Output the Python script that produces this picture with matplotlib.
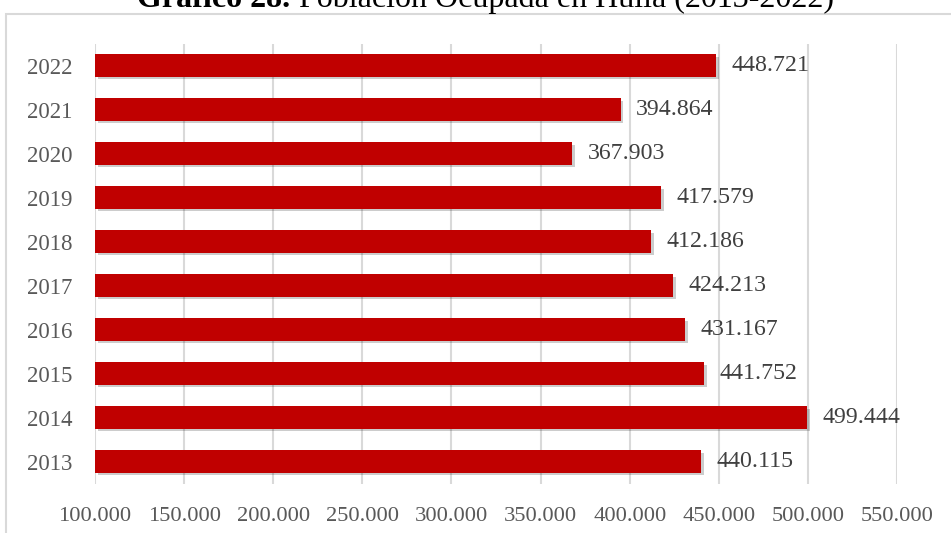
import matplotlib
matplotlib.use("Agg")
import matplotlib.pyplot as plt
import matplotlib.patheffects as pe
from matplotlib.patches import Rectangle

years = ["2013", "2014", "2015", "2016", "2017", "2018", "2019", "2020", "2021", "2022"]
values = [440115, 499444, 441752, 431167, 424213, 412186, 417579, 367903, 394864, 448721]
xticks = [100000, 150000, 200000, 250000, 300000, 350000, 400000, 450000, 500000, 550000]
title_bold = "Gráfico 28."
title_rest = " Población Ocupada en Huila (2013-2022)"

def fmt(v):
    return f"{v:,}".replace(",", ".")

plt.rcParams['font.family'] = ['Liberation Serif', 'DejaVu Serif']

W, H = 951, 533
fig = plt.figure(figsize=(W / 100, H / 100), dpi=100)

# outer chart frame
fig.patches.append(Rectangle((6 / W, -0.05), 1.2, 1 - 14 / H + 0.05, transform=fig.transFigure,
                             fill=False, edgecolor="#D9D9D9", linewidth=1.5))

ax = fig.add_axes([95 / W, 1 - 483.5 / H, (897 - 95) / W, (483.5 - 43.5) / H])
ypos = list(range(len(years)))
bars = ax.barh(ypos, [v - xticks[0] for v in values], left=xticks[0], height=0.51,
               color="#C00000", zorder=3)
for b in bars:
    b.set_path_effects([pe.SimplePatchShadow(offset=(2, -2), shadow_rgbFace="#000000", alpha=0.2),
                        pe.Normal()])

ax.set_xlim(xticks[0], xticks[-1])
ax.set_ylim(-0.5, len(years) - 0.5)
ax.set_xticks(xticks)
ax.set_xticklabels([fmt(t) for t in xticks], fontsize=16.2, color="#595959")
ax.set_yticks(ypos)
ax.set_yticklabels(years, fontsize=16.5, color="#595959")
ax.tick_params(axis="both", length=0)
ax.tick_params(axis="x", pad=17)
ax.tick_params(axis="y", pad=16.5)
ax.grid(axis="x", color="#D9D9D9", linewidth=1.5, zorder=0)
for s in ax.spines.values():
    s.set_visible(False)

for y, v in zip(ypos, values):
    ax.annotate(fmt(v), (v, y), xytext=(11, 0), textcoords="offset points",
                va="center", ha="left", fontsize=17.2, color="#404040")

# title with bold prefix
fig.canvas.draw()
r = fig.canvas.get_renderer()
t1 = fig.text(0, 1 - 7 / H, title_bold, fontsize=23, fontweight="bold", va="baseline", ha="left")
t2 = fig.text(0, 1 - 7 / H, title_rest, fontsize=23, va="baseline", ha="left")
w1 = t1.get_window_extent(r).width
w2 = t2.get_window_extent(r).width
x0 = 485.5 - (w1 + w2) / 2
t1.set_x(x0 / W)
t2.set_x((x0 + w1) / W)

fig.savefig("out.png", dpi=100)
